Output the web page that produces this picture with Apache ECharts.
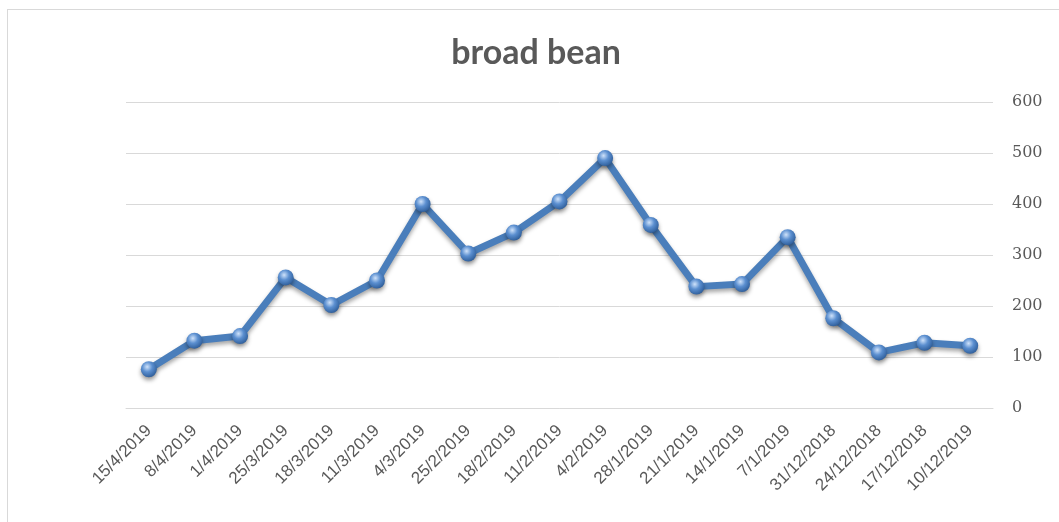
<!DOCTYPE html>
<html>
<head>
<meta charset="utf-8">
<script src="https://cdn.jsdelivr.net/npm/echarts@6/dist/echarts.min.js"></script>
<style>
html, body { margin: 0; padding: 0; background: #fff; }
#frame { position: absolute; left: 7px; top: 9px; width: 1060px; height: 520px; border: 1px solid #d9d9d9; box-sizing: border-box; }
#chart { position: absolute; left: 0; top: 0; width: 1059px; height: 522px; }
</style>
</head>
<body>
<div id="frame"></div>
<div id="chart"></div>
<script>
var titleText = 'broad bean';
var dates = ['15/4/2019', '8/4/2019', '1/4/2019', '25/3/2019', '18/3/2019', '11/3/2019', '4/3/2019',
  '25/2/2019', '18/2/2019', '11/2/2019', '4/2/2019', '28/1/2019', '21/1/2019', '14/1/2019',
  '7/1/2019', '31/12/2018', '24/12/2018', '17/12/2018', '10/12/2019'];
var prices = [76, 132, 141, 256, 202, 250, 400, 303, 344, 405, 490, 359, 238, 243, 335, 176, 109, 128, 122];

var myChart = echarts.init(document.getElementById('chart'));
var option = {
  animation: false,
  title: {
    text: titleText,
    left: 531,
    textAlign: 'center',
    top: 31,
    textStyle: { fontFamily: 'Lato', fontSize: 34, fontWeight: 'bold', color: '#595959' }
  },
  grid: { left: 126, right: 66, top: 102, bottom: 114 },
  xAxis: {
    type: 'category',
    data: dates,
    boundaryGap: true,
    axisLine: { show: true, lineStyle: { color: '#d9d9d9', width: 1 } },
    axisTick: { show: false },
    axisLabel: {
      rotate: 45,
      interval: 0,
      margin: 20,
      fontFamily: 'Liberation Sans',
      fontSize: 17,
      color: '#595959'
    }
  },
  yAxis: {
    type: 'value',
    position: 'right',
    min: 0,
    max: 600,
    interval: 100,
    axisLine: { show: false },
    axisTick: { show: false },
    splitLine: { lineStyle: { color: '#d9d9d9', width: 1 } },
    axisLabel: {
      margin: 19,
      fontFamily: 'DejaVu Serif',
      fontSize: 16,
      color: '#595959'
    }
  },
  series: [{
    type: 'line',
    data: prices,
    symbol: 'circle',
    symbolSize: 16,
    lineStyle: {
      color: '#4a7ebb',
      width: 7,
      shadowColor: 'rgba(0,0,0,0.35)',
      shadowBlur: 4,
      shadowOffsetY: 3
    },
    itemStyle: {
      color: {
        type: 'radial', x: 0.4, y: 0.35, r: 0.7,
        colorStops: [
          { offset: 0, color: '#cfe2fa' },
          { offset: 0.45, color: '#5b8fd0' },
          { offset: 1, color: '#2b5a96' }
        ]
      },
      borderWidth: 0,
      shadowColor: 'rgba(0,0,0,0.4)',
      shadowBlur: 4,
      shadowOffsetY: 3
    }
  }]
};
myChart.setOption(option);
</script>
</body>
</html>
